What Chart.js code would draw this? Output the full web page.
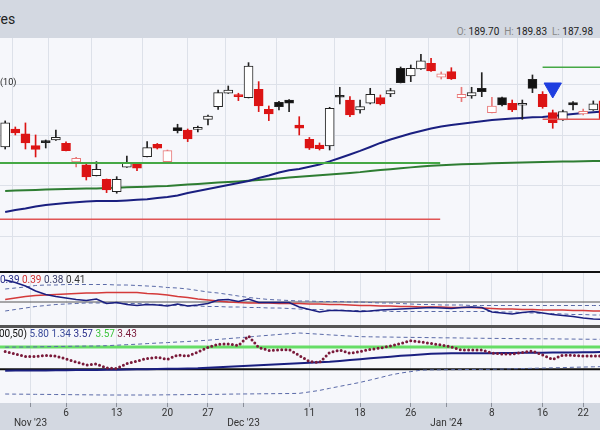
<!DOCTYPE html>
<html>
<head>
<meta charset="utf-8">
<script src="https://cdn.jsdelivr.net/npm/chart.js@4.4.1/dist/chart.umd.min.js"></script>
<style>
  body { margin: 0; }
  #wrap { position: relative; width: 600px; height: 430px; overflow: hidden; background: #d3d8e1; font-family: Roboto, 'Noto Sans', sans-serif; }
  .pane { position: absolute; left: 0; width: 600px; }
  .pane canvas { display: block; }
  .sep { position: absolute; left: 0; width: 600px; }
  .lbl { position: absolute; white-space: nowrap; font-size: 10px; line-height: 12px; }
</style>
</head>
<body>
<div id="wrap">
  <div class="lbl" style="left:-4px;top:11px;font-size:14px;line-height:16px;color:#222">res</div>
  <div class="lbl" style="right:7px;top:26px;font-size:10px;color:#222">
    <span style="color:#888">O:</span> 189.70 &nbsp;<span style="color:#888">H:</span> 189.83 &nbsp;<span style="color:#888">L:</span> 187.98
  </div>

  <div class="pane" style="top:38px;height:233px"><canvas id="chartPrice" width="600" height="233"></canvas></div>
  <div class="sep" style="top:271px;height:2px;background:#111"></div>
  <div class="pane" style="top:273px;height:52px"><canvas id="chartRatio" width="600" height="52"></canvas></div>
  <div class="sep" style="top:325px;height:3px;background:#555"></div>
  <div class="pane" style="top:328px;height:102px"><canvas id="chartOsc" width="600" height="102"></canvas></div>

  <div class="lbl" style="left:0;top:76px;font-size:9px;color:#222">(10)</div>
  <div class="lbl" style="left:0;top:274px">
    <span style="color:#2a2f8a">0.39</span> <span style="color:#d03030">0.39</span> <span style="color:#3a3f6a">0.38</span> <span style="color:#333">0.41</span>
  </div>
  <div class="lbl" style="left:-1px;top:328px">
    <span style="color:#111">00,50)</span> <span style="color:#3a4a9a">5.80</span> <span style="color:#3a4a9a">1.34</span> <span style="color:#2a2f8a">3.57</span> <span style="color:#3cc43c">3.57</span> <span style="color:#7a1a3a">3.43</span>
  </div>
</div>

<script>
/* ========== Data ========== */
// trading-day index: 0 = Mon 6 Nov 2023, first bar = Fri 27 Oct 2023
const FIRST_DAY = -6;
const X_MIN = -6.51;
const X_MAX = 52.66;

const dayTicks   = [0, 5, 10, 14, 24, 29, 34, 42, 47, 51];
const dayLabels  = ['6', '13', '20', '27', '11', '18', '26', '8', '16', '22'];
const monthTicks  = [-3.5, 17.5, 37.5];
const monthLabels = ["Nov '23", "Dec '23", "Jan '24"];

const priceGrid = [175, 180, 185, 190];

const open = [
  183.86, 185.64, 185.15, 183.99, 184.29, 184.55, 184.23, 182.38, 182.08, 181.02,
  180.66, 179.44, 181.85, 182.18, 182.90, 184.13, 182.41, 185.77, 185.54, 185.61,
  186.60, 187.85, 189.18, 188.86, 188.74, 189.57, 187.59, 188.29, 188.51, 186.04,
  184.62, 184.06, 183.96, 188.78, 188.51, 187.52, 188.19, 188.74, 189.11, 191.65,
  190.89, 191.58, 192.15, 190.76, 191.32, 188.74, 188.91, 189.67, 187.26, 188.74,
  188.19, 187.99, 190.56, 189.08, 187.26, 186.53, 188.25, 187.13, 187.52, 188.42
];
const high = [
  186.44, 185.84, 186.24, 185.05, 184.55, 185.54, 184.36, 182.84, 182.18, 182.41,
  180.69, 180.92, 182.97, 182.23, 184.39, 184.21, 183.56, 186.11, 185.64, 185.94,
  187.03, 189.50, 189.90, 189.18, 192.21, 190.33, 187.92, 188.37, 188.56, 186.86,
  184.80, 184.26, 187.79, 189.77, 188.84, 188.51, 189.67, 189.01, 189.67, 191.78,
  191.98, 193.04, 192.64, 191.29, 191.71, 189.77, 189.77, 191.22, 188.78, 188.81,
  188.51, 188.51, 190.99, 189.34, 187.52, 187.52, 188.35, 187.62, 188.42, 188.61
];
const low = [
  183.66, 185.05, 183.66, 182.87, 183.76, 184.50, 183.47, 181.88, 180.59, 180.99,
  179.34, 179.28, 181.83, 181.51, 182.87, 183.66, 182.35, 185.25, 184.39, 185.35,
  186.04, 187.59, 189.16, 188.45, 188.71, 187.36, 186.47, 187.52, 187.36, 185.05,
  183.61, 183.56, 183.56, 188.12, 186.86, 187.20, 188.12, 188.02, 188.84, 190.20,
  190.33, 191.53, 191.34, 190.59, 190.54, 188.35, 188.68, 188.84, 187.23, 187.92,
  187.36, 186.60, 189.24, 187.69, 185.71, 186.49, 187.52, 187.03, 187.48, 186.24
];
const close = [
  186.24, 185.25, 184.26, 183.63, 184.29, 184.82, 183.50, 182.74, 180.89, 181.65,
  179.60, 180.66, 182.25, 181.75, 183.79, 183.73, 183.50, 185.48, 184.65, 185.63,
  186.93, 189.24, 189.50, 188.84, 191.88, 187.92, 187.13, 187.85, 188.19, 185.71,
  183.73, 183.70, 187.69, 188.78, 187.03, 187.85, 189.08, 188.12, 189.44, 190.23,
  191.65, 192.38, 191.39, 191.09, 190.59, 189.08, 189.24, 189.34, 187.92, 188.02,
  187.52, 188.05, 189.67, 187.85, 186.27, 187.36, 188.02, 187.38, 188.12, 186.63
];

const sma50 = [
  177.43, 177.62, 177.77, 177.97, 178.12, 178.22, 178.32, 178.39, 178.45, 178.50,
  178.51, 178.51, 178.57, 178.63, 178.69, 178.81, 178.91, 179.06, 179.31, 179.50,
  179.70, 179.90, 180.10, 180.30, 180.50, 180.79, 181.04, 181.34, 181.55, 181.68,
  181.90, 182.12, 182.43, 182.77, 183.12, 183.47, 183.86, 184.26, 184.60, 184.90,
  185.20, 185.45, 185.69, 185.89, 186.04, 186.17, 186.29, 186.41, 186.53, 186.61,
  186.68, 186.74, 186.80, 186.83, 186.93, 187.03, 187.13, 187.23, 187.30, 187.36
];
const sma200 = [
  179.51, 179.55, 179.58, 179.61, 179.64, 179.67, 179.69, 179.72, 179.74, 179.76,
  179.79, 179.83, 179.86, 179.89, 179.93, 179.96, 180.00, 180.07, 180.14, 180.20,
  180.27, 180.34, 180.40, 180.45, 180.51, 180.59, 180.67, 180.75, 180.83, 180.91,
  180.99, 181.06, 181.14, 181.21, 181.29, 181.37, 181.48, 181.58, 181.66, 181.75,
  181.84, 181.92, 182.00, 182.06, 182.10, 182.14, 182.18, 182.21, 182.24, 182.27,
  182.30, 182.33, 182.35, 182.37, 182.39, 182.41, 182.43, 182.45, 182.47, 182.48
];

// drawn levels on the price panel
const GREEN_LEVEL = 182.28, RED_LEVEL = 176.70, LEVEL_END = 36.9;
const TARGET_LEVEL = 191.75, STOP_LEVEL = 186.60, TRADE_START = 47.0;
const SIGNAL_DAY = 48, SIGNAL_PRICE = 189.70;

// middle panel (ratio line, its average and bands)
const ratio = [
  0.460, 0.455, 0.448, 0.438, 0.431, 0.427, 0.424, 0.421, 0.419, 0.422,
  0.413, 0.415, 0.411, 0.409, 0.411, 0.410, 0.408, 0.412, 0.408, 0.410,
  0.413, 0.420, 0.421, 0.417, 0.422, 0.415, 0.415, 0.415, 0.415, 0.406,
  0.401, 0.396, 0.399, 0.399, 0.398, 0.397, 0.398, 0.400, 0.401, 0.402,
  0.403, 0.404, 0.405, 0.404, 0.403, 0.405, 0.406, 0.405, 0.396, 0.394,
  0.392, 0.395, 0.397, 0.394, 0.391, 0.389, 0.387, 0.384, 0.382, 0.381
];
const ratioAvg = [
  0.421, 0.424, 0.427, 0.429, 0.430, 0.431, 0.432, 0.433, 0.434, 0.434,
  0.435, 0.435, 0.435, 0.435, 0.433, 0.432, 0.430, 0.427, 0.425, 0.422,
  0.420, 0.418, 0.416, 0.415, 0.414, 0.414, 0.414, 0.413, 0.413, 0.413,
  0.412, 0.412, 0.411, 0.411, 0.410, 0.409, 0.409, 0.408, 0.408, 0.407,
  0.407, 0.406, 0.406, 0.406, 0.405, 0.405, 0.405, 0.404, 0.403, 0.402,
  0.402, 0.401, 0.401, 0.400, 0.400, 0.400, 0.399, 0.399, 0.398, 0.398
];
const ratioUpper = [
  0.442, 0.444, 0.446, 0.449, 0.450, 0.450, 0.451, 0.451, 0.451, 0.451,
  0.451, 0.450, 0.450, 0.449, 0.448, 0.447, 0.445, 0.444, 0.442, 0.439,
  0.436, 0.434, 0.431, 0.428, 0.425, 0.423, 0.421, 0.420, 0.419, 0.418,
  0.418, 0.417, 0.417, 0.417, 0.416, 0.416, 0.415, 0.414, 0.414, 0.413,
  0.412, 0.411, 0.411, 0.410, 0.410, 0.410, 0.409, 0.409, 0.409, 0.409,
  0.409, 0.409, 0.409, 0.409, 0.409, 0.409, 0.409, 0.409, 0.409, 0.409
];
const ratioLower = [
  0.398, 0.401, 0.404, 0.407, 0.409, 0.411, 0.412, 0.413, 0.414, 0.414,
  0.414, 0.414, 0.413, 0.413, 0.412, 0.411, 0.410, 0.409, 0.408, 0.408,
  0.407, 0.407, 0.406, 0.406, 0.405, 0.405, 0.404, 0.404, 0.403, 0.402,
  0.401, 0.401, 0.400, 0.400, 0.399, 0.399, 0.398, 0.398, 0.397, 0.397,
  0.397, 0.397, 0.397, 0.397, 0.397, 0.397, 0.397, 0.397, 0.397, 0.396,
  0.396, 0.395, 0.394, 0.393, 0.393, 0.392, 0.391, 0.391, 0.390, 0.390
];
const RATIO_REF = 0.416;

// bottom panel (oscillator, trend line and bands)
const osc = [
  3.65, 3.27, 2.90, 2.90, 3.05, 2.97, 2.52, 2.07, 1.62, 1.77,
  1.17, 1.10, 1.85, 2.22, 2.60, 2.78, 2.48, 3.12, 2.97, 3.57,
  4.25, 4.73, 4.77, 4.55, 5.97, 4.25, 3.80, 3.87, 3.95, 3.05,
  2.15, 2.00, 3.50, 3.87, 3.38, 3.65, 3.95, 4.17, 4.47, 4.85,
  5.27, 5.07, 4.85, 4.62, 4.32, 3.87, 3.87, 3.87, 3.42, 3.27,
  3.27, 3.50, 3.72, 3.12, 2.45, 3.12, 3.05, 2.97, 2.97, 2.97
];
const oscTrend = [
  0.77, 0.78, 0.80, 0.81, 0.81, 0.83, 0.84, 0.86, 0.87, 0.87,
  0.89, 0.92, 0.95, 0.98, 0.99, 1.02, 1.04, 1.07, 1.10, 1.13,
  1.20, 1.28, 1.35, 1.43, 1.50, 1.58, 1.65, 1.73, 1.80, 1.88,
  1.95, 2.03, 2.10, 2.22, 2.37, 2.49, 2.63, 2.75, 2.87, 2.99,
  3.09, 3.20, 3.29, 3.36, 3.38, 3.38, 3.38, 3.38, 3.39, 3.41,
  3.42, 3.44, 3.45, 3.47, 3.48, 3.50, 3.51, 3.53, 3.54, 3.56
];
const oscUpper = [
  4.29, 4.31, 4.32, 4.34, 4.37, 4.40, 4.41, 4.44, 4.46, 4.47,
  4.52, 4.59, 4.67, 4.74, 4.83, 4.91, 4.98, 5.07, 5.15, 5.24,
  5.34, 5.46, 5.58, 5.70, 5.82, 5.96, 6.08, 6.20, 6.32, 6.42,
  6.33, 6.24, 6.14, 6.05, 5.96, 5.87, 5.85, 5.82, 5.81, 5.78,
  5.76, 5.75, 5.72, 5.70, 5.69, 5.67, 5.64, 5.63, 5.61, 5.60,
  5.58, 5.57, 5.55, 5.55, 5.54, 5.52, 5.51, 5.49, 5.48, 5.48
];
const oscLower = [
  -2.73, -2.75, -2.76, -2.78, -2.79, -2.81, -2.82, -2.84, -2.85, -2.87,
  -2.88, -2.88, -2.88, -2.88, -2.88, -2.87, -2.85, -2.84, -2.82, -2.81,
  -2.79, -2.78, -2.75, -2.73, -2.72, -2.70, -2.69, -2.67, -2.66, -2.63,
  -2.42, -2.19, -1.88, -1.58, -1.29, -0.99, -0.63, -0.26, 0.12, 0.41,
  0.63, 0.84, 0.89, 0.90, 0.92, 0.93, 0.95, 0.96, 0.98, 1.01,
  1.05, 1.08, 1.13, 1.16, 1.20, 1.23, 1.28, 1.31, 1.35, 1.38
];
const OSC_SIGNAL = 4.32;
const OSC_BASE = 1.0;

/* ========== Colors ========== */
const COLORS = {
  pane: '#f6f7fb',
  grid: '#dde1e9',
  red: '#dc1414',
  pink: '#e87878',
  black: '#111111',
  navy: '#1a1f80',
  green: '#2e7d32',
  lightGreen: '#45a845',
  redLine: '#e05555',
  blue: '#1e3ee0',
  band: '#5a6aa8',
  maroon: '#7a1a3a',
  oscGreen: '#66dd66'
};

Chart.defaults.font.family = "Roboto, 'Noto Sans', sans-serif";
Chart.defaults.animation = false;

/* ========== Helpers ========== */
const pts = arr => arr.map((v, k) => ({ x: FIRST_DAY + k, y: v }));
const flat = (v, from, to) => [{ x: from, y: v }, { x: to, y: v }];
const gridTicks = [...dayTicks, ...monthTicks].sort((a, b) => a - b);

function tickText(v) {
  const m = monthTicks.indexOf(v);
  if (m >= 0) return ['', monthLabels[m]];
  const d = dayTicks.indexOf(v);
  return d >= 0 ? dayLabels[d] : '';
}

const paneBgPlugin = {
  id: 'paneBg',
  beforeDraw(chart) {
    const { ctx, chartArea: a } = chart;
    ctx.save();
    ctx.fillStyle = COLORS.pane;
    ctx.fillRect(a.left, a.top, a.right - a.left, a.bottom - a.top);
    ctx.restore();
  }
};

function xAxis(showLabels) {
  return {
    type: 'linear', min: X_MIN, max: X_MAX, offset: false, bounds: 'data',
    afterBuildTicks: s => { s.ticks = gridTicks.map(v => ({ value: v })); },
    grid: { color: COLORS.grid, drawTicks: showLabels, tickLength: 4, tickColor: '#8a8f99' },
    border: { display: false },
    ticks: {
      display: showLabels, autoSkip: false, maxRotation: 0, padding: 1,
      color: '#333', font: { size: 10, lineHeight: 1 },
      callback: v => tickText(v)
    },
    afterFit: s => { s.height = showLabels ? 27 : 0; }
  };
}

function yAxis(min, max, gridValues) {
  return {
    type: 'linear', position: 'right', min, max, bounds: 'data',
    afterBuildTicks: s => { s.ticks = gridValues.map(v => ({ value: v })); },
    grid: { display: gridValues.length > 0, color: COLORS.grid, drawTicks: false },
    border: { display: false },
    ticks: { display: false },
    afterFit: s => { s.width = 0; }
  };
}

function line(data, color, width, extra) {
  return Object.assign({
    type: 'line', data, borderColor: color, borderWidth: width,
    pointRadius: 0, tension: 0, fill: false
  }, extra || {});
}

const baseOptions = (x, y) => ({
  responsive: false,
  events: [],
  layout: { padding: 0, autoPadding: false },
  plugins: { legend: { display: false }, tooltip: { enabled: false } },
  scales: { x, y }
});

/* ========== Price panel ========== */
function createPriceChart() {
  const isRed = close.map((c, k) => k > 0 && c < close[k - 1]);
  const isHollow = close.map((c, k) => c > open[k]);
  const stroke = isRed.map((r, k) => r ? (isHollow[k] ? COLORS.pink : COLORS.red) : '#222');
  const fill = isRed.map((r, k) => isHollow[k] ? '#ffffff' : (r ? COLORS.red : COLORS.black));

  new Chart(document.getElementById('chartPrice'), {
    type: 'bar',
    data: {
      datasets: [
        line(flat(GREEN_LEVEL, X_MIN, LEVEL_END), COLORS.lightGreen, 2, { order: 0 }),
        line(flat(RED_LEVEL, X_MIN, LEVEL_END), COLORS.redLine, 1.5, { order: 0 }),
        line(flat(TARGET_LEVEL, TRADE_START, X_MAX + 1), COLORS.lightGreen, 1.5, { order: 0 }),
        line(flat(STOP_LEVEL, TRADE_START, X_MAX + 1), COLORS.redLine, 1.5, { order: 0 }),
        {
          type: 'line', data: [{ x: SIGNAL_DAY, y: SIGNAL_PRICE }], showLine: false,
          pointStyle: 'triangle', rotation: 180, pointRadius: 10,
          pointBackgroundColor: COLORS.blue, pointBorderColor: COLORS.blue, order: 0
        },
        {
          type: 'bar', grouped: false, order: 1,
          data: open.map((o, k) => ({ x: FIRST_DAY + k, y: [o, close[k]] })),
          backgroundColor: fill, borderColor: stroke, borderWidth: 1,
          borderSkipped: false, barThickness: 9, minBarLength: 2
        },
        {
          type: 'bar', grouped: false, order: 2,
          data: low.map((l, k) => ({ x: FIRST_DAY + k, y: [l, high[k]] })),
          backgroundColor: stroke, barThickness: 1
        },
        line(pts(sma50), COLORS.navy, 2, { order: 3 }),
        line(pts(sma200), COLORS.green, 2, { order: 3 })
      ]
    },
    options: baseOptions(xAxis(false), yAxis(171.58, 194.65, priceGrid)),
    plugins: [paneBgPlugin]
  });
}

/* ========== Ratio panel ========== */
function createRatioChart() {
  new Chart(document.getElementById('chartRatio'), {
    type: 'line',
    data: {
      datasets: [
        line(pts(ratio), COLORS.navy, 1.5),
        line(pts(ratioAvg), '#d43a3a', 1.5),
        line(pts(ratioUpper), COLORS.band, 1, { borderDash: [4, 3] }),
        line(pts(ratioLower), COLORS.band, 1, { borderDash: [4, 3] }),
        line(flat(RATIO_REF, X_MIN, X_MAX), '#555', 1)
      ]
    },
    options: baseOptions(xAxis(false), yAxis(0.37, 0.474, [])),
    plugins: [paneBgPlugin]
  });
}

/* ========== Oscillator panel ========== */
function createOscChart() {
  new Chart(document.getElementById('chartOsc'), {
    type: 'line',
    data: {
      datasets: [
        line(pts(osc), COLORS.maroon, 3, { borderDash: [0, 4.2], borderCapStyle: 'round' }),
        line(pts(oscTrend), COLORS.navy, 2),
        line(pts(oscUpper), COLORS.band, 1, { borderDash: [4, 3] }),
        line(pts(oscLower), COLORS.band, 1, { borderDash: [4, 3] }),
        line(flat(OSC_BASE, X_MIN, X_MAX), COLORS.black, 2),
        line(flat(OSC_SIGNAL, X_MIN, X_MAX), COLORS.oscGreen, 3)
      ]
    },
    options: baseOptions(xAxis(true), yAxis(-4.08, 7.17, [])),
    plugins: [paneBgPlugin]
  });
}

createPriceChart();
createRatioChart();
createOscChart();
</script>
</body>
</html>
